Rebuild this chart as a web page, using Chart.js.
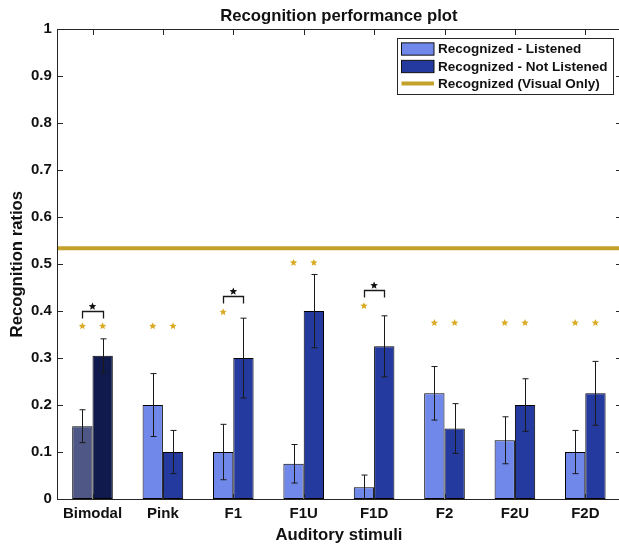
<!DOCTYPE html>
<html>
<head>
<meta charset="utf-8">
<title>Recognition performance plot</title>
<script src="https://cdn.jsdelivr.net/npm/chart.js@4.4.0/dist/chart.umd.min.js"></script>
<style>
  html, body { margin: 0; padding: 0; background: #fff; overflow: hidden; }
  #wrap { position: relative; width: 624px; height: 544px; }
</style>
</head>
<body>
<div id="wrap"><canvas id="chart" width="624" height="544"></canvas></div>
<script>
// ---- data ----
const CATEGORIES = ['Bimodal', 'Pink', 'F1', 'F1U', 'F1D', 'F2', 'F2U', 'F2D'];
const SERIES_LABELS = ['Recognized - Listened', 'Recognized - Not Listened', 'Recognized (Visual Only)'];

const LISTENED          = [0.155, 0.200, 0.100, 0.075, 0.025, 0.225, 0.125, 0.100];
const LISTENED_ERR      = [0.035, 0.067, 0.059, 0.041, 0.026, 0.057, 0.050, 0.046];
const NOT_LISTENED      = [0.305, 0.100, 0.300, 0.400, 0.325, 0.150, 0.200, 0.225];
const NOT_LISTENED_ERR  = [0.036, 0.046, 0.085, 0.078, 0.065, 0.053, 0.056, 0.068];

const VISUAL_ONLY = 0.534;

// significance markers (null = none)
const STAR_LISTENED     = [0.368, 0.368, 0.398, 0.503, 0.411, 0.375, 0.375, 0.375];
const STAR_NOT_LISTENED = [0.368, 0.368, null, 0.503, null, 0.375, 0.375, 0.375];
const PAIR_BRACKET      = [0.401, null, 0.433, null, 0.445, null, null, null];

const Y_TICK_LABELS = ['0', '0.1', '0.2', '0.3', '0.4', '0.5', '0.6', '0.7', '0.8', '0.9', '1'];

const TITLE = 'Recognition performance plot';
const X_TITLE = 'Auditory stimuli';
const Y_TITLE = 'Recognition ratios';

// ---- style ----
const FONT = "'Liberation Sans', Arial, Helvetica, sans-serif";
const TEXT = '#111111';
const AXIS = '#262626';
const LIGHT = '#6f88ea';
const DARK = '#243a9e';
const LIGHT_BIMODAL = '#4e5785';
const DARK_BIMODAL = '#101a4c';
const GOLD = '#c4a12b';
const STAR_GOLD = '#d9aa22';

function starPath(ctx, x, y, r, color) {
  ctx.beginPath();
  for (let i = 0; i < 10; i++) {
    const rad = i % 2 === 0 ? r : r * 0.45;
    const a = -Math.PI / 2 + i * Math.PI / 5;
    const px = x + rad * Math.cos(a), py = y + rad * Math.sin(a);
    if (i === 0) ctx.moveTo(px, py); else ctx.lineTo(px, py);
  }
  ctx.closePath();
  ctx.fillStyle = color;
  ctx.fill();
}

// error bars, reference line, significance marks, axes box, title and legend
const decorations = {
  id: 'decorations',
  afterDatasetsDraw(chart) {
    const ctx = chart.ctx;
    const ys = chart.scales.y;
    const xs = chart.scales.x;
    const area = chart.chartArea;
    const series = [[LISTENED, LISTENED_ERR], [NOT_LISTENED, NOT_LISTENED_ERR]];

    ctx.save();
    // error bars
    ctx.strokeStyle = '#1a1a1a';
    ctx.lineWidth = 1;
    series.forEach(([vals, errs], d) => {
      const meta = chart.getDatasetMeta(d);
      meta.data.forEach((bar, i) => {
        const x = Math.round(bar.x) + 0.5;
        const top = ys.getPixelForValue(vals[i] + errs[i]);
        const bot = ys.getPixelForValue(Math.max(0, vals[i] - errs[i]));
        ctx.beginPath();
        ctx.moveTo(x, top); ctx.lineTo(x, bot);
        ctx.moveTo(x - 3, top); ctx.lineTo(x + 3, top);
        ctx.moveTo(x - 3, bot); ctx.lineTo(x + 3, bot);
        ctx.stroke();
      });
    });

    // visual-only reference level
    const gy = ys.getPixelForValue(VISUAL_ONLY);
    ctx.strokeStyle = GOLD;
    ctx.lineWidth = 4;
    ctx.beginPath();
    ctx.moveTo(area.left, gy); ctx.lineTo(area.right, gy);
    ctx.stroke();

    // significance stars
    const m0 = chart.getDatasetMeta(0).data;
    const m1 = chart.getDatasetMeta(1).data;
    CATEGORIES.forEach((c, i) => {
      if (STAR_LISTENED[i] !== null) starPath(ctx, m0[i].x, ys.getPixelForValue(STAR_LISTENED[i]), 3.8, STAR_GOLD);
      if (STAR_NOT_LISTENED[i] !== null) starPath(ctx, m1[i].x, ys.getPixelForValue(STAR_NOT_LISTENED[i]), 3.8, STAR_GOLD);
      if (PAIR_BRACKET[i] !== null) {
        const by = Math.round(ys.getPixelForValue(PAIR_BRACKET[i])) + 0.5;
        const x0 = Math.round(m0[i].x) + 0.5, x1 = Math.round(m1[i].x) + 0.5;
        ctx.strokeStyle = '#1a1a1a';
        ctx.lineWidth = 1.3;
        ctx.beginPath();
        ctx.moveTo(x0, by + 7); ctx.lineTo(x0, by); ctx.lineTo(x1, by); ctx.lineTo(x1, by + 7);
        ctx.stroke();
        starPath(ctx, (m0[i].x + m1[i].x) / 2, by - 5, 4, '#111111');
      }
    });

    // axes box with inward ticks
    ctx.strokeStyle = AXIS;
    ctx.lineWidth = 1;
    const L = Math.round(area.left) + 0.5, R = Math.round(area.right) + 0.5;
    const T = Math.round(area.top) + 0.5, B = Math.round(area.bottom) + 0.5;
    ctx.strokeRect(L, T, R - L, B - T);
    ctx.beginPath();
    ys.ticks.forEach((t) => {
      const py = Math.round(ys.getPixelForValue(t.value)) + 0.5;
      ctx.moveTo(L, py); ctx.lineTo(L + 5.5, py);
      ctx.moveTo(R, py); ctx.lineTo(R - 5.5, py);
    });
    CATEGORIES.forEach((c, i) => {
      const px = Math.round(xs.getPixelForValue(i)) + 0.5;
      ctx.moveTo(px, T); ctx.lineTo(px, T + 5.5);
      ctx.moveTo(px, B); ctx.lineTo(px, B - 5.5);
    });
    ctx.stroke();

    // title centred over the axes
    ctx.fillStyle = TEXT;
    ctx.font = `bold 16.7px ${FONT}`;
    ctx.textAlign = 'center';
    ctx.textBaseline = 'middle';
    ctx.fillText(TITLE, (area.left + area.right) / 2, 16.8);

    // legend
    ctx.font = `bold 13.5px ${FONT}`;
    const maxW = Math.max(...SERIES_LABELS.map((s) => ctx.measureText(s).width));
    const boxR = area.right - 8;
    const boxT = area.top + 9;
    const boxW = 41 + maxW + 5;
    const boxL = boxR - boxW;
    const boxH = 56;
    ctx.fillStyle = '#ffffff';
    ctx.fillRect(boxL, boxT, boxW, boxH);
    ctx.strokeStyle = AXIS;
    ctx.lineWidth = 1;
    ctx.strokeRect(Math.round(boxL) + 0.5, Math.round(boxT) + 0.5, Math.round(boxW), boxH);
    const rows = [boxT + 10.7, boxT + 28.2, boxT + 45.2];
    const swL = boxL + 4.5, swW = 32.5, swH = 12.3;
    [LIGHT, DARK].forEach((col, k) => {
      ctx.fillStyle = col;
      ctx.fillRect(swL, rows[k] - swH / 2, swW, swH);
      ctx.strokeStyle = '#111111';
      ctx.strokeRect(swL, rows[k] - swH / 2, swW, swH);
    });
    ctx.strokeStyle = GOLD;
    ctx.lineWidth = 4;
    ctx.beginPath();
    ctx.moveTo(swL, rows[2]); ctx.lineTo(swL + swW, rows[2]);
    ctx.stroke();
    ctx.fillStyle = TEXT;
    ctx.textBaseline = 'middle';
    ctx.textAlign = 'left';
    SERIES_LABELS.forEach((s, k) => ctx.fillText(s, boxL + 41, rows[k] + 0.5));
    ctx.restore();
  }
};

const barStyle = {
  borderColor: '#000000',
  borderWidth: 1,
  borderSkipped: false,
  categoryPercentage: 0.577,
  barPercentage: 1.0
};

new Chart(document.getElementById('chart'), {
  type: 'bar',
  data: {
    labels: CATEGORIES,
    datasets: [
      Object.assign({
        label: SERIES_LABELS[0],
        data: LISTENED,
        backgroundColor: CATEGORIES.map((c, i) => (i === 0 ? LIGHT_BIMODAL : LIGHT))
      }, barStyle),
      Object.assign({
        label: SERIES_LABELS[1],
        data: NOT_LISTENED,
        backgroundColor: CATEGORIES.map((c, i) => (i === 0 ? DARK_BIMODAL : DARK))
      }, barStyle)
    ]
  },
  options: {
    responsive: false,
    animation: false,
    devicePixelRatio: 1,
    layout: { padding: { top: 29.3, right: 3.5, left: 0, bottom: 0 } },
    plugins: {
      legend: { display: false },
      tooltip: { enabled: false },
      title: { display: false }
    },
    scales: {
      x: {
        grid: { display: false, drawTicks: false },
        border: { display: false },
        ticks: { color: TEXT, font: { family: FONT, size: 15, weight: 'bold' }, padding: 6, maxRotation: 0, autoSkip: false },
        title: { display: true, text: X_TITLE, color: TEXT, font: { family: FONT, size: 16.7, weight: 'bold', lineHeight: 1 }, padding: { top: 0, bottom: 0 } },
        afterFit(s) { s.height = 45; }
      },
      y: {
        min: 0,
        max: 1,
        grid: { display: false, drawTicks: false },
        border: { display: false },
        ticks: {
          stepSize: 0.1,
          color: TEXT,
          font: { family: FONT, size: 15, weight: 'bold' },
          padding: 5.5,
          callback: (v, i) => Y_TICK_LABELS[i]
        },
        title: { display: true, text: Y_TITLE, color: TEXT, font: { family: FONT, size: 16.7, weight: 'bold', lineHeight: 1 }, padding: { top: 9.5, bottom: 0 } },
        afterFit(s) { s.width = 57.3; }
      }
    }
  },
  plugins: [decorations]
});
</script>
</body>
</html>
